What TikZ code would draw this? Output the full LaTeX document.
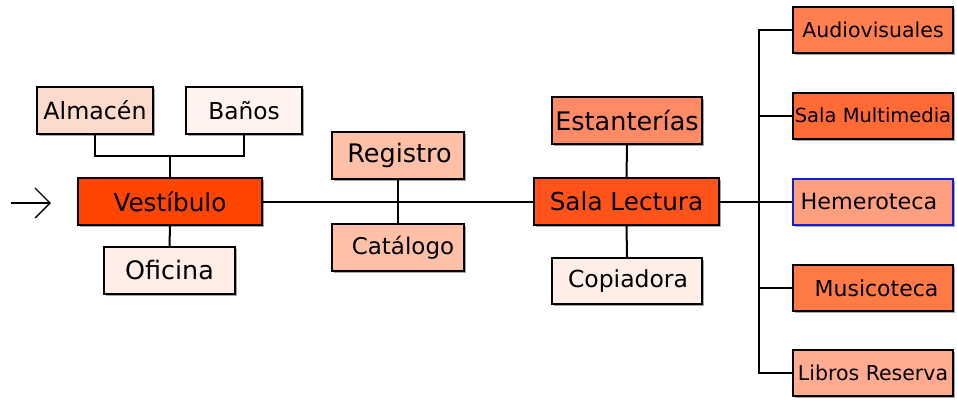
\documentclass[tikz,border=0pt]{standalone}
\usepackage{fontspec}
\setmainfont{DejaVu Sans}
\usetikzlibrary{arrows.meta,shadows}
\definecolor{cAlm}{HTML}{FCDACC}
\definecolor{cBan}{HTML}{FFF3EF}
\definecolor{cVes}{HTML}{FF4500}
\definecolor{cOfi}{HTML}{FFEEE6}
\definecolor{cReg}{HTML}{FFC0A8}
\definecolor{cEst}{HTML}{FF8A66}
\definecolor{cSal}{HTML}{FF5319}
\definecolor{cCop}{HTML}{FFEEE6}
\definecolor{cAud}{HTML}{FF7F50}
\definecolor{cMul}{HTML}{FF6A35}
\definecolor{cHem}{HTML}{FF9F80}
\definecolor{cMus}{HTML}{FF7A45}
\definecolor{cLib}{HTML}{FFAB90}
\definecolor{cBlue}{HTML}{1020D0}
\tikzset{
  fsz/.style={font=\fontsize{#1}{#1}\selectfont},
  box/.style={rectangle, draw=black, line width=2pt, inner sep=0pt,
    minimum height=47pt, fsz=24,
    drop shadow={shadow xshift=2pt, shadow yshift=-2pt, fill=black!35, opacity=1}},
  conn/.style={line width=2pt},
}
\begin{document}
\begin{tikzpicture}[x=1pt,y=-1pt]
\useasboundingbox (0,0) rectangle (957,399);
% nodes
\node[box, fill=cAlm, minimum width=116pt, fsz=23.7] (alm) at (95,110.5) {Almacén};
\node[box, fill=cBan, minimum width=116pt, fsz=23.3] (ban) at (244,110.5) {Baños};
\node[box, fill=cVes, minimum width=184pt, fsz=24.7] (ves) at (170,201.5) {Vestíbulo};
\node[box, fill=cOfi, minimum width=131pt, fsz=25.4] (ofi) at (169.5,270.5) {Oficina};
\node[box, fill=cReg, minimum width=132pt, fsz=25.5] (reg) at (398,155.5) {\hspace*{3pt}Registro};
\node[box, fill=cReg, minimum width=132pt, fsz=23] (cat) at (398,247.5) {\hspace*{10pt}Catálogo};
\node[box, fill=cEst, minimum width=150pt, fsz=25.5] (est) at (627,120.5) {Estanterías};
\node[box, fill=cSal, minimum width=185pt, fsz=24.7] (sal) at (626.5,201.5) {Sala Lectura};
\node[box, fill=cCop, minimum width=150pt, minimum height=46pt, fsz=23.5] (cop) at (627,281) {\hspace*{2pt}Copiadora};
\node[box, fill=cAud, minimum width=160pt, minimum height=46pt, fsz=20.5] (aud) at (873,30) {Audiovisuales};
\node[box, fill=cMul, minimum width=160pt, minimum height=46pt, fsz=19.5] (mul) at (873,115.5) {Sala Multimedia};
\node[box, fill=cHem, draw=cBlue, minimum width=160pt, minimum height=46pt, fsz=22.3] (hem) at (873,201.5) {Hemeroteca\hspace*{8pt}};
\node[box, fill=cMus, minimum width=160pt, minimum height=46pt, fsz=22] (mus) at (873,288) {\hspace*{7pt}Musicoteca};
\node[box, fill=cLib, minimum width=160pt, minimum height=46pt, fsz=20.5] (lib) at (873,372.5) {Libros Reserva};
% coordinates
\coordinate (jA) at (170,156);
\coordinate (trunk) at (759,201.5);
\coordinate (arrS) at (11,203);
\coordinate (arrE) at (51,203);
% connectors
\draw[conn] (alm.south) |- (jA) -| (ban.south);
\draw[conn] (jA) -- (ves.north);
\draw[conn] (ves.south) -- (ofi.north);
\draw[conn] (ves.east) -- (sal.west);
\draw[conn] (reg.south) -- (cat.north);
\draw[conn] (est.south) -- (sal.north);
\draw[conn] (sal.south) -- (cop.north);
\draw[conn] (sal.east) -- (trunk) -- (hem.west);
\draw[conn] (aud.west) -- (aud.west -| trunk) -- (lib.west -| trunk) -- (lib.west);
\draw[conn] (mul.west) -- (mul.west -| trunk);
\draw[conn] (mus.west) -- (mus.west -| trunk);
\draw[line width=1.4pt, -{Straight Barb[length=15pt,width=30pt,line width=1.4pt]}] (arrS) -- (arrE);
\end{tikzpicture}
\end{document}
